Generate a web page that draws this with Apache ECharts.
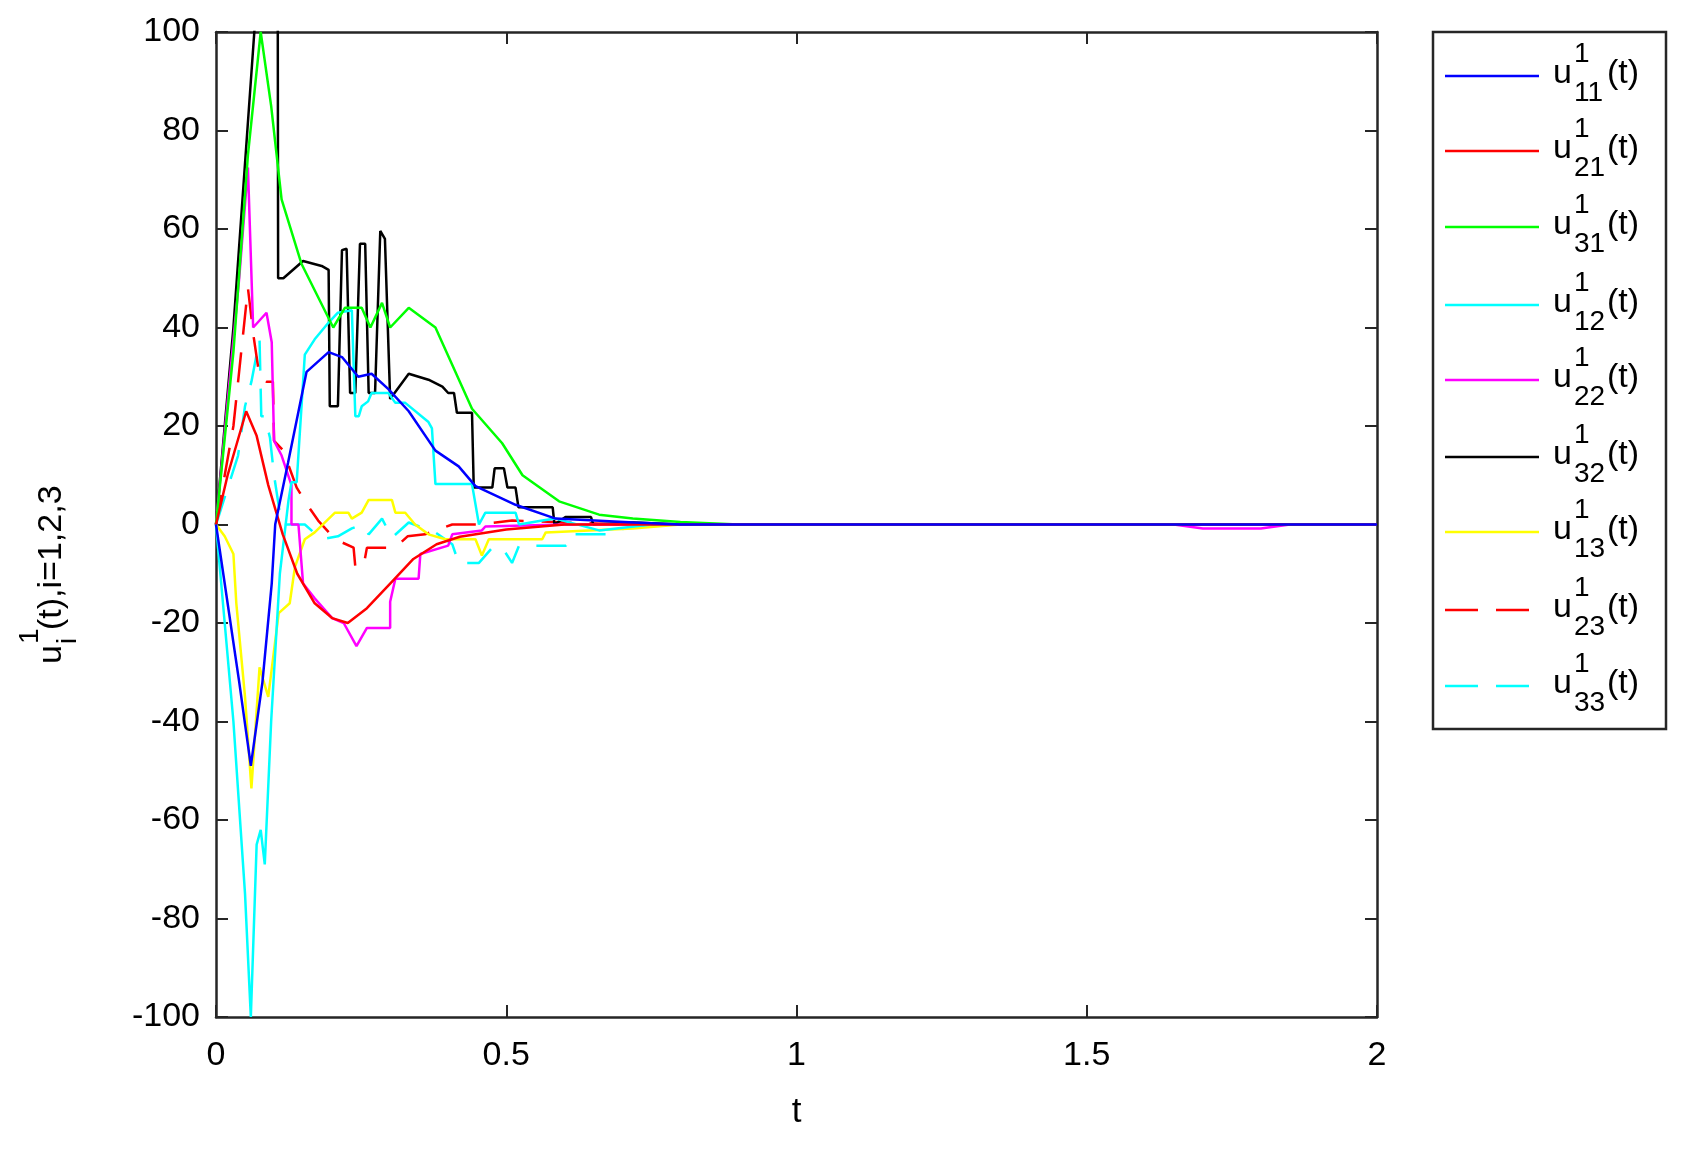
<!DOCTYPE html>
<html>
<head>
<meta charset="utf-8">
<script src="https://cdn.jsdelivr.net/npm/echarts@6/dist/echarts.min.js"></script>
<style>html,body{margin:0;padding:0;background:#fff}#c{width:1684px;height:1152px}</style>
</head>
<body>
<div id="c"></div>
<script>
// series values as [t, u] pairs
var u11 = [[0,0],[0.02,-16],[0.04,-32],[0.06,-49],[0.08,-32],[0.096,-12],[0.102,0],[0.124,12.5],[0.156,31],[0.194,35],[0.217,34],[0.245,30],[0.268,30.6],[0.297,27.5],[0.332,23],[0.378,15],[0.418,11.8],[0.447,7.8],[0.516,4],[0.585,1.2],[0.72,0.4],[0.8,0],[2,0]];
var u21 = [[0,0],[0.02,10],[0.052,23],[0.07,18],[0.09,8],[0.115,-2],[0.14,-10],[0.17,-16],[0.2,-19],[0.227,-20],[0.26,-17],[0.3,-12],[0.34,-7],[0.38,-4],[0.42,-2.5],[0.5,-1],[0.6,0],[2,0]];
var u31 = [[0,0],[0.03,35],[0.055,75],[0.077,100],[0.095,85],[0.113,66],[0.147,53],[0.202,40],[0.222,44],[0.251,44],[0.266,40],[0.286,45],[0.3,40],[0.332,44],[0.378,40],[0.441,23.5],[0.493,16.5],[0.528,10],[0.591,4.7],[0.66,2],[0.718,1.2],[0.8,0.5],[0.9,0],[2,0]];
var u12 = [[0,0],[0.03,-40],[0.05,-75],[0.06,-100],[0.07,-65],[0.077,-62],[0.084,-69],[0.095,-40],[0.11,-10],[0.125,5],[0.13,8.6],[0.139,8.6],[0.153,34.5],[0.17,37.6],[0.194,41],[0.21,43],[0.234,43.5],[0.24,22],[0.246,22],[0.251,24],[0.262,25],[0.268,26.7],[0.297,26.7],[0.309,24.7],[0.326,24.7],[0.366,20.8],[0.372,19.5],[0.378,8.2],[0.441,8.2],[0.453,0],[0.464,2.4],[0.516,2.4],[0.522,0],[0.562,0.8],[0.585,1.2],[0.66,-1.2],[0.75,0],[2,0]];
var u22 = [[0,0],[0.02,25],[0.04,50],[0.055,72.5],[0.064,40],[0.087,43],[0.096,37],[0.1,17],[0.113,14],[0.13,8],[0.13,0],[0.142,0],[0.15,-12],[0.17,-15],[0.2,-19],[0.22,-20],[0.242,-24.7],[0.26,-21],[0.3,-21],[0.3,-15.7],[0.309,-11],[0.349,-11],[0.352,-6],[0.4,-4.3],[0.407,-2],[0.458,-1.2],[0.464,-0.4],[0.6,0],[1.65,0],[1.7,-0.8],[1.8,-0.8],[1.85,0],[2,0]];
var u32 = [[0,0],[0.03,40],[0.066,100],[0.085,140],[0.106,140],[0.107,50],[0.116,50],[0.15,53.5],[0.182,52.5],[0.194,51.7],[0.196,24],[0.21,24],[0.217,55.7],[0.225,56],[0.231,26.7],[0.24,26.7],[0.248,57],[0.257,57],[0.263,26.7],[0.274,26.7],[0.283,59.6],[0.291,58],[0.3,25.5],[0.332,30.6],[0.366,29.4],[0.39,28],[0.4,26.7],[0.41,26.7],[0.415,22.7],[0.441,22.7],[0.444,7.5],[0.476,7.5],[0.48,11.4],[0.496,11.4],[0.502,7.5],[0.516,7.5],[0.521,3.5],[0.58,3.5],[0.583,0],[0.602,1.5],[0.646,1.5],[0.65,0],[0.72,0.4],[0.8,0],[2,0]];
var u13 = [[0,0],[0.015,-2.4],[0.03,-6],[0.035,-16],[0.05,-35],[0.061,-53.6],[0.075,-29],[0.09,-35],[0.108,-18],[0.127,-16],[0.136,-8.6],[0.153,-3],[0.17,-1.6],[0.205,2.4],[0.228,2.4],[0.234,1.2],[0.251,2.4],[0.263,5],[0.303,5],[0.309,2.4],[0.326,2.4],[0.343,0],[0.366,-2],[0.395,-3],[0.447,-3],[0.458,-6.3],[0.47,-3],[0.562,-3],[0.568,-1.6],[0.718,-0.8],[0.8,0],[2,0]];
var u23 = [[0,0],[0.03,20],[0.055,48],[0.065,38],[0.075,30],[0.087,29],[0.098,29],[0.1,17],[0.116,15],[0.125,12],[0.139,7.5],[0.16,3.5],[0.176,0.8],[0.205,-3],[0.237,-4.7],[0.24,-8.6],[0.254,-8.6],[0.26,-4.7],[0.309,-4.7],[0.33,-2.4],[0.36,-2],[0.407,0],[0.45,0],[0.51,0.8],[0.7,0],[2,0]];
var u33 = [[0,0],[0.038,14],[0.05,24],[0.061,29],[0.075,37.6],[0.078,22],[0.084,22],[0.093,17.6],[0.1,10],[0.113,0],[0.153,0],[0.182,-3],[0.21,-2.4],[0.234,-0.8],[0.251,0],[0.263,-2],[0.286,1.2],[0.303,-2.7],[0.332,0.4],[0.378,-1.6],[0.407,-4],[0.418,-7.8],[0.453,-7.8],[0.476,-4.7],[0.493,-4.7],[0.51,-7.8],[0.522,-4.3],[0.603,-4.3],[0.608,-2],[0.672,-2],[0.683,-1.2],[0.75,0],[2,0]];

var names = ['11','21','31','12','22','32','13','23','33'];
var datas = [u11,u21,u31,u12,u22,u32,u13,u23,u33];
var colors = ['#0000ff','#ff0000','#00ff00','#00ffff','#ff00ff','#000000','#ffff00','#ff0000','#00ffff'];
var dashed = [false,false,false,false,false,false,false,true,true];

var chart = echarts.init(document.getElementById('c'));
var font = 'Liberation Sans, Arial, sans-serif';
var axCol = '#262626';

var series = datas.map(function(d, i) {
    return {
        type: 'line', name: 'u' + names[i], data: d, showSymbol: false, animation: false,
        clip: true, z: 10 - i,
        lineStyle: {color: colors[i], width: 2.5, type: dashed[i] ? [30, 18] : 'solid'}
    };
});

var g = [];
g.push({type: 'rect', shape: {x: 1433, y: 32, width: 233, height: 697}, style: {fill: '#fff', stroke: axCol, lineWidth: 2.5}, z: 20});
var ly = [76,151,227,305,380,457,532,610,686];
for (var i = 0; i < 9; i++) {
    g.push({type: 'line', shape: {x1: 1445, y1: ly[i], x2: 1539, y2: ly[i]}, style: {stroke: colors[i], lineWidth: 2.5, lineDash: dashed[i] ? [33, 18] : null}, z: 21});
    g.push({type: 'text', x: 1553, y: ly[i] - 2, style: {text: 'u', font: '34px ' + font, fill: '#000', textVerticalAlign: 'middle'}, z: 21});
    g.push({type: 'text', x: 1574, y: ly[i] - 22, style: {text: '1', font: '28px ' + font, fill: '#000', textVerticalAlign: 'middle'}, z: 21});
    g.push({type: 'text', x: 1574, y: ly[i] + 17, style: {text: names[i], font: '28px ' + font, fill: '#000', textVerticalAlign: 'middle'}, z: 21});
    g.push({type: 'text', x: 1607, y: ly[i] - 2, style: {text: '(t)', font: '34px ' + font, fill: '#000', textVerticalAlign: 'middle'}, z: 21});
}
// y axis title, rotated
g.push({type: 'group', x: 52, y: 524, rotation: Math.PI / 2, children: [
    {type: 'text', x: -140, y: 0, style: {text: 'u', font: '34px ' + font, fill: '#000', textVerticalAlign: 'middle'}},
    {type: 'text', x: -120, y: -22, style: {text: '1', font: '28px ' + font, fill: '#000', textVerticalAlign: 'middle'}},
    {type: 'text', x: -120, y: 16, style: {text: 'i', font: '28px ' + font, fill: '#000', textVerticalAlign: 'middle'}},
    {type: 'text', x: -106, y: 0, style: {text: '(t),i=1,2,3', font: '34px ' + font, fill: '#000', textVerticalAlign: 'middle'}}
]});

var axisCommon = {
    axisLine: {show: true, onZero: false, lineStyle: {color: axCol, width: 2.5}},
    axisTick: {show: true, inside: true, length: 12, lineStyle: {color: axCol, width: 2}},
    splitLine: {show: false}
};

chart.setOption({
    backgroundColor: '#fff',
    animation: false,
    grid: {left: 216, top: 32, width: 1161, height: 985, show: false},
    xAxis: [
        Object.assign({type: 'value', min: 0, max: 2, interval: 0.5, position: 'bottom',
            name: 't', nameLocation: 'middle', nameGap: 78, nameTextStyle: {fontSize: 35, fontFamily: font, color: '#000'},
            axisLabel: {fontSize: 34, fontFamily: font, color: '#000', margin: 22}}, axisCommon),
        Object.assign({type: 'value', min: 0, max: 2, interval: 0.5, position: 'top', axisLabel: {show: false}}, axisCommon)
    ],
    yAxis: [
        Object.assign({type: 'value', min: -100, max: 100, interval: 20, position: 'left',
            axisLabel: {fontSize: 34, fontFamily: font, color: '#000', margin: 16}}, axisCommon),
        Object.assign({type: 'value', min: -100, max: 100, interval: 20, position: 'right', axisLabel: {show: false}}, axisCommon)
    ],
    series: series,
    graphic: g
});
</script>
</body>
</html>
